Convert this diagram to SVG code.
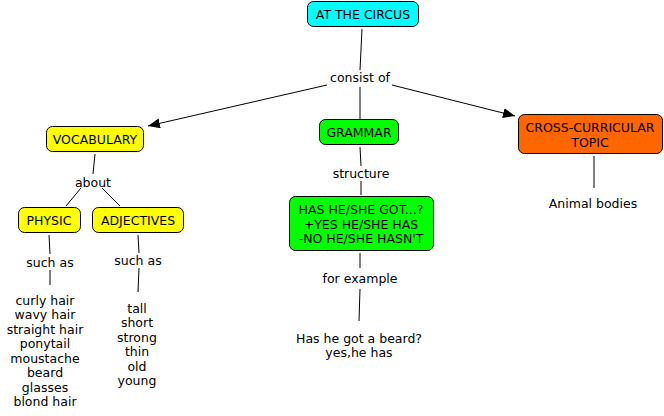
<svg xmlns="http://www.w3.org/2000/svg" width="664" height="416" viewBox="0 0 664 416">
<defs>
<style>
text{font-family:"DejaVu Sans",Verdana,sans-serif;font-size:12.5px;fill:#000;text-anchor:middle;dominant-baseline:central}
.box{stroke:#000;stroke-width:1}
.c{stroke:#000;stroke-width:1;fill:none}
</style>
<marker id="ah" viewBox="0 0 12 10" refX="12" refY="5" markerWidth="12" markerHeight="10" markerUnits="userSpaceOnUse" orient="auto">
<path d="M0,0 L12,5 L0,10 z" fill="#000"/>
</marker>
</defs>
<rect width="664" height="416" fill="#fff"/>
<g id="connectors">
<line class="c" x1="362" y1="29" x2="360" y2="70"/>
<line class="c" x1="360" y1="87" x2="360" y2="119"/>
<line class="c" x1="327" y1="85" x2="148" y2="126" marker-end="url(#ah)"/>
<line class="c" x1="392" y1="85" x2="515" y2="116" marker-end="url(#ah)"/>
<line class="c" x1="95" y1="154" x2="93" y2="174"/>
<line class="c" x1="81" y1="188" x2="66" y2="206"/>
<line class="c" x1="102" y1="188" x2="120" y2="206"/>
<line class="c" x1="49" y1="235" x2="50" y2="254"/>
<line class="c" x1="50" y1="270" x2="50" y2="285"/>
<line class="c" x1="138" y1="235" x2="139" y2="253"/>
<line class="c" x1="139" y1="268" x2="138" y2="292"/>
<line class="c" x1="360" y1="147" x2="361" y2="166"/>
<line class="c" x1="361" y1="181" x2="361" y2="195"/>
<line class="c" x1="360" y1="253" x2="360" y2="268"/>
<line class="c" x1="360" y1="289" x2="359" y2="321"/>
<line class="c" x1="594" y1="156" x2="594" y2="188"/>
</g>
<g id="n-circus"><rect class="box" x="307.5" y="1.5" width="111" height="25" rx="6" fill="#00FFFF"/><text x="363" y="14">AT THE CIRCUS</text></g>
<g id="l-consist"><text x="360" y="77">consist of</text></g>
<g id="n-vocab"><rect class="box" x="46.5" y="126.5" width="97" height="25" rx="6" fill="#FFFF00"/><text x="95" y="139">VOCABULARY</text></g>
<g id="l-about"><text x="93" y="182">about</text></g>
<g id="n-physic"><rect class="box" x="18.5" y="207.5" width="62" height="25" rx="6" fill="#FFFF00"/><text x="49" y="220">PHYSIC</text></g>
<g id="n-adj"><rect class="box" x="92.5" y="207.5" width="91" height="25" rx="6" fill="#FFFF00"/><text x="138" y="220">ADJECTIVES</text></g>
<g id="l-such1"><text x="50" y="262">such as</text></g>
<g id="l-such2"><text x="138" y="260">such as</text></g>
<g id="n-physlist">
<text x="45" y="300">curly hair</text>
<text x="45" y="314">wavy hair</text>
<text x="45" y="329">straight hair</text>
<text x="45" y="343">ponytail</text>
<text x="45" y="358">moustache</text>
<text x="45" y="372">beard</text>
<text x="45" y="387">glasses</text>
<text x="45" y="401">blond hair</text>
</g>
<g id="n-adjlist">
<text x="137" y="308">tall</text>
<text x="137" y="322">short</text>
<text x="137" y="337">strong</text>
<text x="137" y="351">thin</text>
<text x="137" y="366">old</text>
<text x="137" y="380">young</text>
</g>
<g id="n-grammar"><rect class="box" x="319.5" y="119.5" width="79" height="25" rx="6" fill="#00FF00"/><text x="359" y="132">GRAMMAR</text></g>
<g id="l-structure"><text x="361" y="173">structure</text></g>
<g id="n-has"><rect class="box" x="289.5" y="196.5" width="144" height="54" rx="6" fill="#00FF00"/>
<text x="361" y="209">HAS HE/SHE GOT...?</text>
<text x="361" y="224">+YES HE/SHE HAS</text>
<text x="361" y="238">-NO HE/SHE HASN'T</text></g>
<g id="l-example"><text x="360" y="278">for example</text></g>
<g id="n-beard"><text x="359" y="338">Has he got a beard?</text><text x="359" y="352">yes,he has</text></g>
<g id="n-cross"><rect class="box" x="518.5" y="114.5" width="144" height="39" rx="6" fill="#FF6600"/>
<text x="590" y="127">CROSS-CURRICULAR</text><text x="590" y="142">TOPIC</text></g>
<g id="n-animal"><text x="593" y="203">Animal bodies</text></g>
</svg>
